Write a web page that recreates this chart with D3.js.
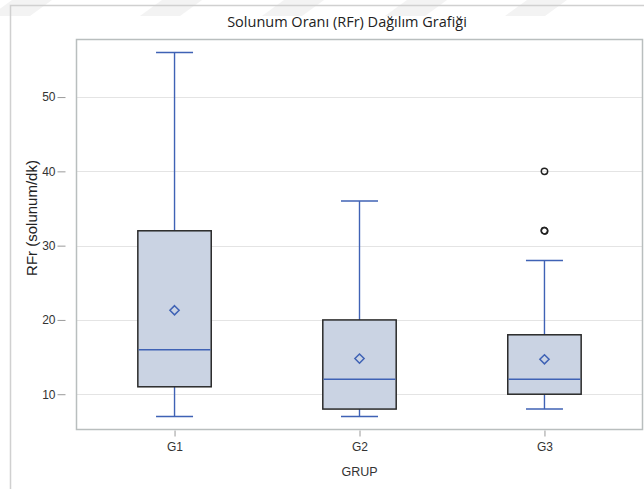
<!DOCTYPE html>
<html>
<head>
<meta charset="utf-8">
<script src="https://cdn.jsdelivr.net/npm/d3@7"></script>
<style>
  html, body { margin: 0; padding: 0; background: #ffffff; }
  svg { display: block; }
</style>
</head>
<body>
<svg id="chart" width="644" height="489"></svg>
<script>
// Five-number summaries per group, plus mean and outliers
const groups   = ["G1", "G2", "G3"];
const minVals  = [7, 7, 8];
const q1Vals   = [11, 8, 10];
const medVals  = [16, 12, 12];
const q3Vals   = [32, 20, 18];
const maxVals  = [56, 36, 28];
const meanVals = [21.3, 14.8, 14.7];
const outliers = [[], [], [32, 32, 40]];
const yTicks   = [10, 20, 30, 40, 50];

const svg = d3.select("#chart");

const frame = { left: 76.5, right: 642.5, top: 39.5, bottom: 429.5 };

const x = d3.scalePoint().domain(groups)
  .range([frame.left, frame.right]).padding(0.53);
const y = d3.scaleLinear().domain([5.25, 57.75])
  .range([frame.bottom, frame.top]);

const boxW = 73.4, capW = 37;
const blue = "#3F62B5";

// faint background watermark bands
const wm = svg.append("g").attr("fill", "#f3f3f3");
[-10, 140, 262, 385, 505].forEach(sx => {
  wm.append("path").attr("d",
    `M${sx},16 L${sx + 22},0 L${sx + 62},0 L${sx + 40},16 Z`);
});

// outer border of the graph area
svg.append("path")
  .attr("d", "M10.5,489 L10.5,5.5 L644,5.5")
  .attr("fill", "none").attr("stroke", "#d0d0d0").attr("stroke-width", 1.5);

// title
svg.append("text")
  .attr("x", 347).attr("y", 27)
  .attr("text-anchor", "middle")
  .attr("font-family", "'Open Sans', sans-serif")
  .attr("font-size", 14.5).attr("fill", "#222")
  .text("Solunum Oranı (RFr) Dağılım Grafiği");

// gridlines
svg.append("g").selectAll("line").data(yTicks).join("line")
  .attr("x1", frame.left).attr("x2", frame.right)
  .attr("y1", d => Math.round(y(d)) + 0.5).attr("y2", d => Math.round(y(d)) + 0.5)
  .attr("stroke", "#e4e4e4").attr("stroke-width", 1);

// y axis ticks and labels
const yAxis = d3.axisLeft(y).tickValues(yTicks).tickSize(8).tickPadding(2);
const gy = svg.append("g").attr("transform", `translate(${frame.left - 11},0)`).call(yAxis);
gy.select(".domain").remove();
gy.selectAll(".tick line").attr("stroke", "#9a9a9a");
gy.selectAll(".tick text")
  .attr("font-family", "Arial, 'Liberation Sans', sans-serif")
  .attr("font-size", 12).attr("fill", "#333");

// x axis ticks and labels
const xAxis = d3.axisBottom(x).tickSize(6).tickPadding(6);
const gx = svg.append("g").attr("transform", `translate(0,${frame.bottom + 1})`).call(xAxis);
gx.select(".domain").remove();
gx.selectAll(".tick line").attr("stroke", "#9a9a9a");
gx.selectAll(".tick text")
  .attr("font-family", "Arial, 'Liberation Sans', sans-serif")
  .attr("font-size", 12).attr("fill", "#333");

// axis titles
svg.append("text")
  .attr("transform", "translate(37,218) rotate(-90)")
  .attr("text-anchor", "middle")
  .attr("font-family", "Arial, 'Liberation Sans', sans-serif")
  .attr("font-size", 15).attr("fill", "#222")
  .text("RFr (solunum/dk)");

svg.append("text")
  .attr("x", x("G2")).attr("y", 476)
  .attr("text-anchor", "middle")
  .attr("font-family", "Arial, 'Liberation Sans', sans-serif")
  .attr("font-size", 12.5).attr("fill", "#333")
  .text("GRUP");

// boxes
const rows = groups.map((g, i) => ({
  g, min: minVals[i], q1: q1Vals[i], med: medVals[i], q3: q3Vals[i],
  max: maxVals[i], mean: meanVals[i], out: outliers[i]
}));

const bx = svg.append("g").selectAll("g").data(rows).join("g")
  .attr("transform", d => `translate(${x(d.g)},0)`);

// whiskers
bx.append("line").attr("x1", 0).attr("x2", 0)
  .attr("y1", d => y(d.max)).attr("y2", d => y(d.q3))
  .attr("stroke", blue).attr("stroke-width", 1.4);
bx.append("line").attr("x1", 0).attr("x2", 0)
  .attr("y1", d => y(d.q1)).attr("y2", d => y(d.min))
  .attr("stroke", blue).attr("stroke-width", 1.4);
bx.append("line").attr("x1", -capW / 2).attr("x2", capW / 2)
  .attr("y1", d => y(d.max)).attr("y2", d => y(d.max))
  .attr("stroke", blue).attr("stroke-width", 1.6);
bx.append("line").attr("x1", -capW / 2).attr("x2", capW / 2)
  .attr("y1", d => y(d.min)).attr("y2", d => y(d.min))
  .attr("stroke", blue).attr("stroke-width", 1.6);

// box body
bx.append("rect")
  .attr("x", -boxW / 2).attr("width", boxW)
  .attr("y", d => y(d.q3)).attr("height", d => y(d.q1) - y(d.q3))
  .attr("fill", "#cad3e3").attr("stroke", "#2a2a2a").attr("stroke-width", 1.5);

// median
bx.append("line").attr("x1", -boxW / 2 + 0.75).attr("x2", boxW / 2 - 0.75)
  .attr("y1", d => y(d.med)).attr("y2", d => y(d.med))
  .attr("stroke", blue).attr("stroke-width", 1.5);

// mean marker
bx.append("path")
  .attr("d", d => {
    const cy = y(d.mean), r = 4.6;
    return `M0,${cy - r} L${r},${cy} L0,${cy + r} L${-r},${cy} Z`;
  })
  .attr("fill", "none").attr("stroke", blue).attr("stroke-width", 1.5);

// outliers
bx.selectAll("circle").data(d => d.out).join("circle")
  .attr("cx", 0).attr("cy", d => y(d)).attr("r", 3.2)
  .attr("fill", "none").attr("stroke", "#222").attr("stroke-width", 1.5);

// plot frame
svg.append("rect")
  .attr("x", frame.left).attr("y", frame.top)
  .attr("width", frame.right - frame.left).attr("height", frame.bottom - frame.top)
  .attr("fill", "none").attr("stroke", "#b9bebe").attr("stroke-width", 1.5);
</script>
</body>
</html>
